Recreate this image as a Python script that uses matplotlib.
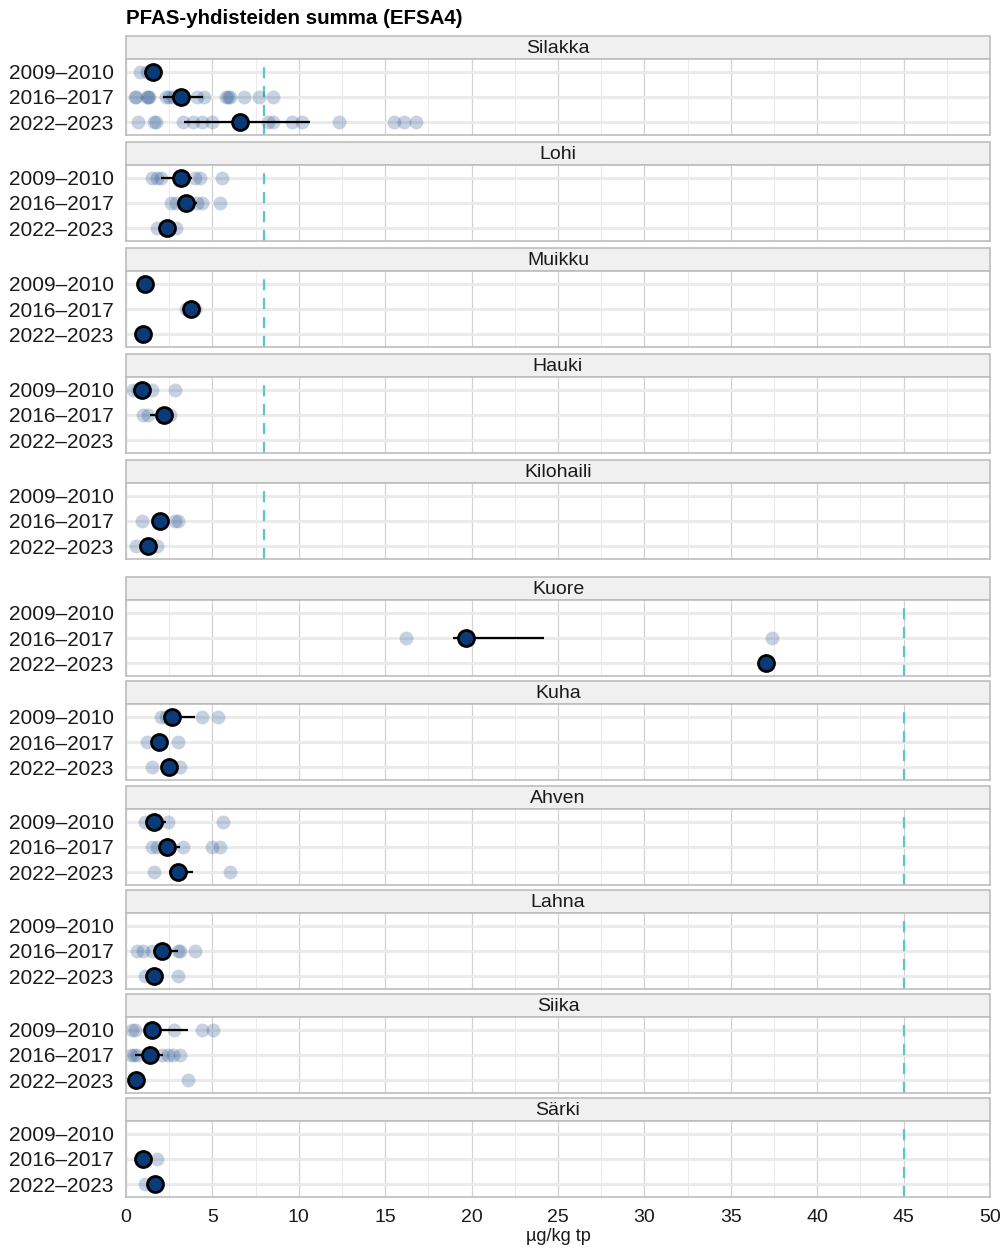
import matplotlib
matplotlib.use("Agg")
import matplotlib.pyplot as plt
from matplotlib.patches import Rectangle

plt.rcParams['font.family'] = ['Liberation Sans', 'DejaVu Sans']

periods = ['2009–2010', '2016–2017', '2022–2023']

species_upper = ['Silakka', 'Lohi', 'Muikku', 'Hauki', 'Kilohaili']
species_lower = ['Kuore', 'Kuha', 'Ahven', 'Lahna', 'Siika', 'Särki']

# limit values for the two groups (µg/kg tp)
limit_upper = 8
limit_lower = 45

# individual samples per period
samples = {
    'Silakka': [[0.8, 1.2, 1.55],
                [0.5, 0.6, 1.2, 1.3, 1.35, 2.3, 2.5, 2.7, 3.0, 3.3, 4.1, 4.5,
                 5.8, 5.9, 6.0, 6.8, 7.7, 8.5],
                [0.7, 1.6, 1.75, 3.3, 3.9, 4.4, 5.0, 8.2, 8.5, 9.6, 10.2, 12.3,
                 15.5, 16.1, 16.8]],
    'Lohi': [[1.5, 1.8, 2.0, 3.3, 4.0, 4.3, 5.55],
             [2.6, 2.9, 3.3, 3.6, 4.1, 4.4, 5.45],
             [1.8, 2.3, 2.9]],
    'Muikku': [[1.1], [3.5, 3.8, 4.0], [1.0]],
    'Hauki': [[0.4, 0.7, 1.0, 1.5, 2.85], [1.0, 1.3, 2.3, 2.55], []],
    'Kilohaili': [[], [0.9, 2.0, 2.85, 3.0], [0.6, 1.2, 1.8]],
    'Kuore': [[], [16.2, 37.4], [37.0]],
    'Kuha': [[2.0, 2.3, 2.6, 4.4, 5.3], [1.2, 1.8, 3.0], [1.5, 2.5, 3.1]],
    'Ahven': [[1.1, 1.6, 2.45, 5.6], [1.5, 1.8, 2.3, 3.3, 4.97, 5.45],
              [1.62, 3.0, 6.0]],
    'Lahna': [[], [0.63, 1.0, 1.5, 2.1, 3.0, 3.15, 4.0], [1.1, 1.6, 3.0]],
    'Siika': [[0.33, 0.52, 1.5, 2.75, 4.4, 5.05],
              [0.3, 0.45, 0.63, 1.4, 2.08, 2.43, 2.72, 3.1],
              [0.58, 3.6]],
    'Särki': [[], [1.0, 1.8], [1.1, 1.7]],
}

# central estimate per period (None = no data)
centre = {
    'Silakka': [1.55, 3.18, 6.6],
    'Lohi': [3.2, 3.5, 2.35],
    'Muikku': [1.1, 3.75, 1.0],
    'Hauki': [0.95, 2.2, None],
    'Kilohaili': [None, 1.97, 1.3],
    'Kuore': [None, 19.7, 37.05],
    'Kuha': [2.66, 1.9, 2.5],
    'Ahven': [1.62, 2.37, 3.0],
    'Lahna': [None, 2.08, 1.62],
    'Siika': [1.5, 1.4, 0.58],
    'Särki': [None, 1.0, 1.7],
}

# interval around the central estimate
interval = {
    'Silakka': [(1.4, 1.75), (2.14, 4.45), (3.36, 10.65)],
    'Lohi': [(2.0, 3.8), (3.1, 4.1), (2.0, 2.7)],
    'Muikku': [None, (3.5, 4.0), None],
    'Hauki': [(0.6, 1.3), (1.4, 2.5), None],
    'Kilohaili': [None, (1.6, 2.3), (1.0, 1.6)],
    'Kuore': [None, (18.9, 24.2), None],
    'Kuha': [(2.3, 4.0), (1.6, 2.2), (2.2, 2.8)],
    'Ahven': [(1.3, 2.3), (1.9, 3.1), (2.5, 3.85)],
    'Lahna': [None, (1.7, 3.0), (1.3, 1.9)],
    'Siika': [(1.2, 3.6), (0.52, 2.14), None],
    'Särki': [None, None, None],
}

W, H = 1007, 1252
LEFT, RIGHT = 126, 990
STRIP_H, PANEL_H = 23, 76

upper_tops = [36, 142, 248, 354, 460]
lower_tops = [577, 681, 786, 890, 994, 1098]

fig = plt.figure(figsize=(W / 100, H / 100), dpi=100)


def px_box(top, bottom):
    return [LEFT / W, 1 - bottom / H, (RIGHT - LEFT) / W, (bottom - top) / H]


def draw_panel(name, top, limit, show_x):
    # facet strip
    sax = fig.add_axes(px_box(top, top + STRIP_H))
    sax.set_xlim(0, 1)
    sax.set_ylim(0, 1)
    sax.axis('off')
    sax.add_patch(Rectangle((0, 0), 1, 1, facecolor='#F0F0F0',
                            edgecolor='#BDBDBD', lw=1.2, clip_on=False))
    sax.text(0.5, 0.45, name, ha='center', va='center', fontsize=14,
             color='#1A1A1A')

    ax = fig.add_axes(px_box(top + STRIP_H, top + STRIP_H + PANEL_H))
    ax.set_xlim(0, 50)
    ax.set_ylim(3.5, 0.5)
    ax.set_xticks(range(0, 51, 5))
    ax.set_xticks([x + 2.5 for x in range(0, 50, 5)], minor=True)
    ax.set_yticks([1, 2, 3])
    ax.set_yticklabels(periods)
    ax.grid(which='major', axis='x', color='#D2D2D2', lw=0.9)
    ax.grid(which='minor', axis='x', color='#EBEBEB', lw=0.7)
    ax.grid(which='major', axis='y', color='#EBEBEB', lw=2.2)
    ax.set_axisbelow(True)
    for sp in ax.spines.values():
        sp.set_color('#BDBDBD')
        sp.set_linewidth(1.2)
    ax.tick_params(axis='both', which='both', length=0)
    ax.tick_params(axis='y', labelsize=15, pad=9, labelcolor='#1A1A1A')
    ax.tick_params(axis='x', labelsize=14, pad=9, labelcolor='#1A1A1A')
    if not show_x:
        ax.set_xticklabels([])

    ax.axvline(limit, color='#5CC6C2', lw=1.6, dashes=(5, 3.5), zorder=1.5)

    for i in range(3):
        y = i + 1
        pts = samples[name][i]
        if pts:
            ax.plot(pts, [y] * len(pts), 'o', ms=10, mew=0,
                    color='#1F4E8C', alpha=0.25, zorder=2)
        ci = interval[name][i]
        if ci is not None:
            ax.plot(ci, [y, y], color='black', lw=1.6, zorder=3,
                    solid_capstyle='butt')
        c = centre[name][i]
        if c is not None:
            ax.plot([c], [y], 'o', ms=11.5, mfc='#0B3A78', mec='black',
                    mew=2, zorder=4)
    return ax


for name, top in zip(species_upper, upper_tops):
    draw_panel(name, top, limit_upper, False)
for k, (name, top) in enumerate(zip(species_lower, lower_tops)):
    ax = draw_panel(name, top, limit_lower, k == len(species_lower) - 1)

ax.set_xlabel('µg/kg tp', fontsize=13, color='#1A1A1A', labelpad=1)

fig.text(LEFT / W, 1 - 18 / H, 'PFAS-yhdisteiden summa (EFSA4)',
         fontsize=14.8, fontweight='bold', ha='left', va='center')

fig.savefig('out.png', dpi=100)
